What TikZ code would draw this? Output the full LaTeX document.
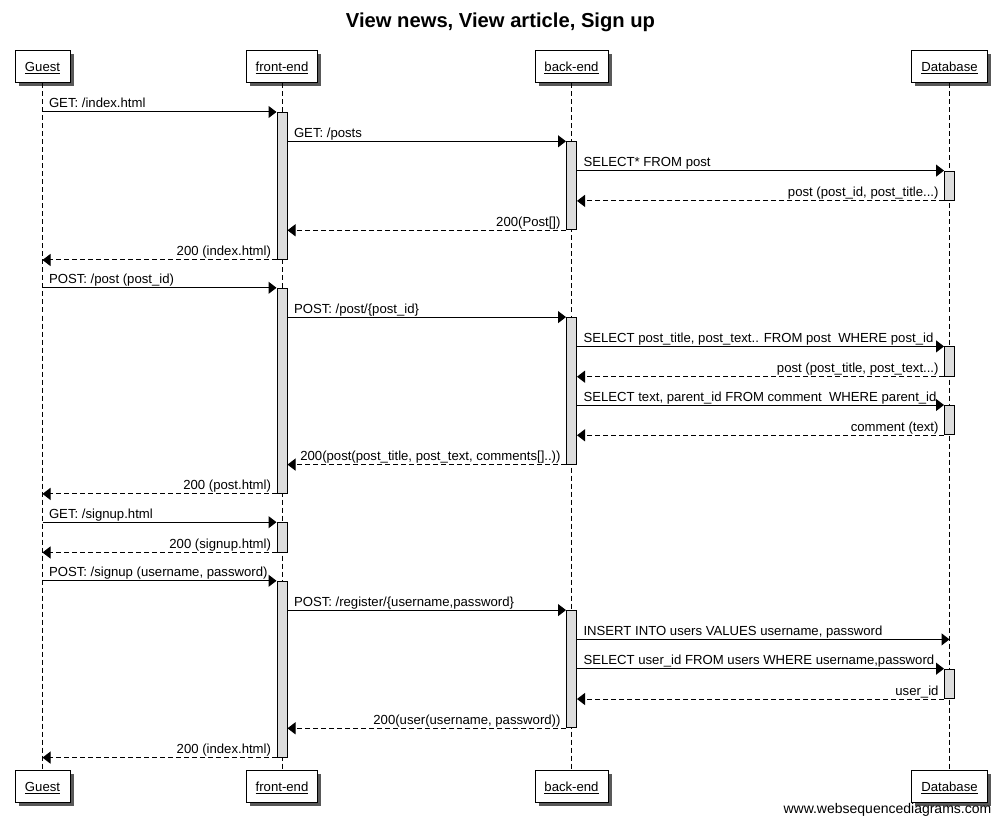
\documentclass[tikz,border=0pt]{standalone}
\usepackage{fontspec}
\setmainfont{Liberation Sans}
\usetikzlibrary{arrows.meta,shadows}
\definecolor{actfill}{RGB}{221,221,221}
\begin{document}
\begin{tikzpicture}[x=1pt,y=-1pt,
  font=\fontsize{13.15}{15}\selectfont,
  pbox/.style={draw, line width=1pt, fill=white, minimum height=32pt, inner sep=0pt,
    text height=9.5pt, text depth=0pt,
    general shadow={fill=black!65, shadow xshift=3.5pt, shadow yshift=-3.5pt}},
  act/.style={draw, line width=1pt, fill=actfill, minimum width=10pt, inner sep=0pt, anchor=north},
  msg/.style={line width=1pt, -{Triangle[length=8pt,width=12pt]}},
  ret/.style={msg, dash pattern=on 5pt off 3pt},
  life/.style={line width=1pt, dash pattern=on 5pt off 3pt},
  lr/.style={pos=0, anchor=base west, xshift=6pt, yshift=4pt, inner sep=0pt},
  rl/.style={pos=0, anchor=base east, xshift=-5pt, yshift=4pt, inner sep=0pt}]
\useasboundingbox (0,0) rectangle (1001,826);
\fill[white] (0,0) rectangle (1001,826);

\node[font=\bfseries\fontsize{20.2}{24}\selectfont, anchor=base] (title) at (500.5,28) {View news, View article, Sign up};

% participants
\node[pbox, minimum width=55pt] (G) at (42.5,67) {\underline{Guest}};
\node[pbox, minimum width=71pt] (F) at (282,67) {\underline{front-end}};
\node[pbox, minimum width=73pt] (B) at (571.5,67) {\underline{back-end}};
\node[pbox, minimum width=76pt] (D) at (949.5,67) {\underline{Database}};
\node[pbox, minimum width=55pt] (G2) at (42.5,786.5) {\underline{Guest}};
\node[pbox, minimum width=71pt] (F2) at (282,786.5) {\underline{front-end}};
\node[pbox, minimum width=73pt] (B2b) at (571.5,786.5) {\underline{back-end}};
\node[pbox, minimum width=76pt] (D2b) at (949.5,786.5) {\underline{Database}};

% lifelines
\draw[life] (G.south) -- (G2.north);
\draw[life] (F.south) -- (F2.north);
\draw[life] (B.south) -- (B2b.north);
\draw[life] (D.south) -- (D2b.north);

% activations
\node[act, minimum height=147pt] (A1) at (282,112) {};
\node[act, minimum height=88pt] (B1) at (571.5,141.3) {};
\node[act, minimum height=29.3pt] (D1) at (949.5,170.6) {};
\node[act, minimum height=205.1pt] (A2) at (282,287.8) {};
\node[act, minimum height=146.5pt] (B2) at (571.5,317.1) {};
\node[act, minimum height=29.3pt] (D2) at (949.5,346.4) {};
\node[act, minimum height=29.3pt] (D3) at (949.5,405) {};
\node[act, minimum height=29.3pt] (A3) at (282,522.2) {};
\node[act, minimum height=175.8pt] (A4) at (282,580.8) {};
\node[act, minimum height=117.2pt] (B3) at (571.5,610.1) {};
\node[act, minimum height=29.3pt] (D4) at (949.5,668.7) {};
\coordinate (m19) at (0,639.4);

% messages
\draw[msg] (G.south |- A1.north) -- node[lr]{GET: /index.html} (A1.north west);
\draw[msg] (A1.east |- B1.north) -- node[lr]{GET: /posts} (B1.north west);
\draw[msg] (B1.east |- D1.north) -- node[lr]{SELECT* FROM post} (D1.north west);
\draw[ret] (D1.south west) -- node[rl]{post (post\_id, post\_title...)} (B1.east |- D1.south);
\draw[ret] (B1.south west) -- node[rl]{200(Post[])} (A1.east |- B1.south);
\draw[ret] (A1.south west) -- node[rl]{200 (index.html)} (G.south |- A1.south);

\draw[msg] (G.south |- A2.north) -- node[lr]{POST: /post (post\_id)} (A2.north west);
\draw[msg] (A2.east |- B2.north) -- node[lr]{POST: /post/\{post\_id\}} (B2.north west);
\draw[msg] (B2.east |- D2.north) -- node[lr]{SELECT post\_title, post\_text.. FROM post\ \ WHERE post\_id} (D2.north west);
\draw[ret] (D2.south west) -- node[rl]{post (post\_title, post\_text...)} (B2.east |- D2.south);
\draw[msg] (B2.east |- D3.north) -- node[lr]{SELECT text, parent\_id FROM comment\ \ WHERE parent\_id} (D3.north west);
\draw[ret] (D3.south west) -- node[rl]{comment (text)} (B2.east |- D3.south);
\draw[ret] (B2.south west) -- node[rl]{200(post(post\_title, post\_text, comments[]..))} (A2.east |- B2.south);
\draw[ret] (A2.south west) -- node[rl]{200 (post.html)} (G.south |- A2.south);

\draw[msg] (G.south |- A3.north) -- node[lr]{GET: /signup.html} (A3.north west);
\draw[ret] (A3.south west) -- node[rl]{200 (signup.html)} (G.south |- A3.south);

\draw[msg] (G.south |- A4.north) -- node[lr]{POST: /signup (username, password)} (A4.north west);
\draw[msg] (A4.east |- B3.north) -- node[lr]{POST: /register/\{username,password\}} (B3.north west);
\draw[msg] (B3.east |- m19) -- node[lr]{INSERT INTO users VALUES username, password} (D.south |- m19);
\draw[msg] (B3.east |- D4.north) -- node[lr]{SELECT user\_id FROM users WHERE username,password} (D4.north west);
\draw[ret] (D4.south west) -- node[rl]{user\_id} (B3.east |- D4.south);
\draw[ret] (B3.south west) -- node[rl]{200(user(username, password))} (A4.east |- B3.south);
\draw[ret] (A4.south west) -- node[rl]{200 (index.html)} (G.south |- A4.south);

\node[font=\fontsize{14}{16}\selectfont, anchor=base east, inner sep=0pt] (wm) at (991.5,813) {www.websequencediagrams.com};
\end{tikzpicture}
\end{document}
